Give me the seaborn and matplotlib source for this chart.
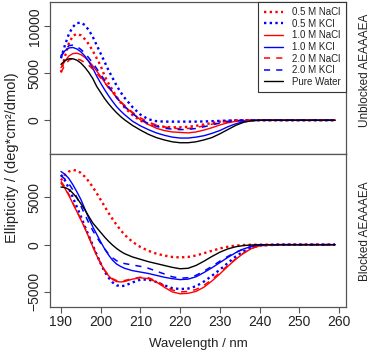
import matplotlib
matplotlib.use("Agg")
import matplotlib.pyplot as plt
import numpy as np
import pandas as pd
import seaborn as sns

# wavelength grid (nm) shared by every spectrum
wavelength = [190, 191, 192, 193, 194, 195, 196, 197, 198, 199, 200, 201, 202, 203, 204, 205, 206,
              208, 210, 212, 214, 216, 218, 220, 222, 224, 226, 228, 230, 232, 234, 236, 238, 240,
              245, 250, 255, 259]

series_labels = ["0.5 M NaCl", "0.5 M KCl", "1.0 M NaCl", "1.0 M KCl",
                 "2.0 M NaCl", "2.0 M KCl", "Pure Water"]

# unblocked AEAAAEA (top panel)
unb_nacl_05 = [5100, 6800, 8200, 9000, 9200, 9050, 8650, 8100, 7400, 6600, 5800, 4700, 3900, 3200, 2500, 1900, 1350,
               550, -50, -400, -600, -700, -750, -750, -700, -600, -450, -300, -150, -60, -20, 0, 0, 0,
               0, 0, 0, 0]
unb_kcl_05 = [6600, 8000, 9200, 9950, 10350, 10400, 10150, 9600, 8900, 8000, 7100, 6200, 5300, 4500, 3700, 3000, 2400,
              1400, 600, 100, -100, -150, -150, -150, -150, -150, -130, -100, -70, -40, -20, -10, 0, 0,
              0, 0, 0, 0]
unb_nacl_10 = [5600, 6300, 6850, 7100, 7150, 7000, 6700, 6300, 5800, 5250, 4650, 4050, 3450, 3000, 2450, 1950, 1500,
               750, 50, -450, -850, -1100, -1250, -1300, -1350, -1250, -1050, -800, -500, -280, -120, -40, 0, 0,
               0, 0, 0, 0]
unb_kcl_10 = [6900, 7400, 7700, 7750, 7600, 7300, 6850, 6250, 5550, 4700, 3950, 3250, 2600, 2000, 1450, 1000, 600,
              -100, -600, -1000, -1350, -1600, -1800, -1900, -1900, -1800, -1650, -1400, -1100, -700, -380, -150, -40, 0,
              0, 0, 0, 0]
unb_nacl_20 = [5100, 5900, 6400, 6600, 6550, 6400, 6150, 5850, 5450, 5000, 4500, 4000, 3450, 2950, 2450, 2000, 1600,
               850, 250, -200, -500, -700, -850, -900, -880, -780, -600, -420, -250, -120, -50, -10, 0, 0,
               0, 0, 0, 0]
unb_kcl_20 = [6700, 7500, 7950, 8000, 7850, 7550, 7150, 6650, 6100, 5500, 4900, 4250, 3600, 3000, 2400, 1900, 1450,
              700, 100, -350, -650, -850, -950, -1000, -980, -880, -700, -500, -300, -150, -60, -15, 0, 0,
              0, 0, 0, 0]
unb_water = [5950, 6350, 6550, 6550, 6400, 6100, 5650, 5100, 4450, 3600, 2950, 2300, 1750, 1250, 800, 400, 50,
             -550, -1050, -1500, -1850, -2100, -2300, -2400, -2400, -2300, -2100, -1850, -1450, -1000, -550, -220, -60, 0,
             0, 0, 0, 0]

# blocked AEAAAEA (bottom panel)
blk_nacl_05 = [6800, 7400, 7750, 7900, 7850, 7600, 7200, 6700, 6100, 5450, 4750, 4050, 3350, 2700, 2100, 1550, 1050,
               300, -250, -650, -950, -1150, -1300, -1350, -1300, -1150, -900, -650, -400, -220, -100, -40, -10, 0,
               0, 0, 0, 0]
blk_kcl_05 = [7400, 6800, 5950, 5000, 4000, 3000, 1950, 950, -50, -1050, -2000, -2850, -3500, -4000, -4300, -4400, -4350,
              -4000, -3700, -3700, -3950, -4300, -4600, -4700, -4650, -4400, -3900, -3300, -2650, -1950, -1250, -700, -300, -80,
              0, 0, 0, 0]
blk_nacl_10 = [6500, 5950, 5200, 4350, 3500, 2650, 1750, 800, -200, -1150, -2000, -2750, -3300, -3700, -3900, -3950, -3900,
               -3650, -3500, -3600, -3950, -4500, -5000, -5200, -5150, -4950, -4500, -3850, -3100, -2300, -1550, -900, -400, -120,
               0, 0, 0, 0]
blk_kcl_10 = [7750, 7450, 7000, 6350, 5600, 4800, 3800, 2800, 1900, 1100, 300, -450, -1100, -1650, -2050, -2300, -2500,
              -2750, -2900, -3050, -3250, -3450, -3600, -3700, -3650, -3400, -2950, -2450, -1900, -1350, -850, -450, -180, -50,
              0, 0, 0, 0]
blk_nacl_20 = [6700, 6100, 5300, 4400, 3550, 2700, 1800, 850, -150, -1100, -1950, -2700, -3250, -3600, -3800, -3850, -3800,
               -3600, -3450, -3500, -3850, -4350, -4800, -5000, -4950, -4750, -4300, -3700, -2950, -2200, -1500, -880, -390, -110,
               0, 0, 0, 0]
blk_kcl_20 = [7300, 6950, 6450, 5800, 5000, 4100, 3200, 2300, 1500, 800, 150, -450, -1000, -1400, -1700, -1900, -2000,
              -2150, -2300, -2500, -2800, -3100, -3400, -3550, -3500, -3250, -2800, -2300, -1750, -1250, -800, -450, -180, -50,
              0, 0, 0, 0]
blk_water = [6100, 6050, 5850, 5450, 4950, 4350, 3700, 3000, 2300, 1800, 1300, 800, 350, -50, -400, -700, -950,
             -1300, -1550, -1800, -2000, -2200, -2400, -2550, -2500, -2200, -1750, -1250, -800, -450, -220, -90, -30, 0,
             0, 0, 0, 0]

unblocked = [unb_nacl_05, unb_kcl_05, unb_nacl_10, unb_kcl_10, unb_nacl_20, unb_kcl_20, unb_water]
blocked = [blk_nacl_05, blk_kcl_05, blk_nacl_10, blk_kcl_10, blk_nacl_20, blk_kcl_20, blk_water]

colors = ["red", "blue", "red", "blue", "red", "blue", "black"]
dotted = (0, (1, 1.4))
dashed = (0, (4, 4))
styles = [dotted, dotted, "-", "-", dashed, dashed, "-"]
widths = [1.7, 1.7, 1.0, 1.0, 1.1, 1.1, 1.0]

sns.set_style("ticks")
plt.rcParams['font.family'] = ['Liberation Sans', 'DejaVu Sans']

W, H = 374, 353
fig = plt.figure(figsize=(W / 100, H / 100), dpi=100)
ax_top = fig.add_axes([50 / W, 1 - 154 / H, 296 / W, 152 / H])
ax_bot = fig.add_axes([50 / W, 1 - 307 / H, 296 / W, 153 / H], sharex=ax_top)

for ax, panel in [(ax_top, unblocked), (ax_bot, blocked)]:
    for vals, lab, c, ls, lw in zip(panel, series_labels, colors, styles, widths):
        sns.lineplot(x=wavelength, y=vals, ax=ax, color=c, linestyle=ls, linewidth=lw,
                     label=lab, legend=False)

ax_top.set_xlim(187.24, 261.76)
ax_top.set_ylim(-3600, 12600)
ax_bot.set_ylim(-6600, 9600)
ax_top.set_yticks([0, 5000, 10000])
ax_bot.set_yticks([-5000, 0, 5000])
ax_bot.set_xticks(range(190, 261, 10))

txt = "#222222"
for ax in (ax_top, ax_bot):
    for s in ax.spines.values():
        s.set_color("#555555")
        s.set_linewidth(0.9)
    ax.tick_params(direction="out", length=4, width=0.8, color="#555555",
                   labelcolor=txt, labelsize=10, pad=2)
    ax.tick_params(axis="y", labelrotation=90)
    for t in ax.get_yticklabels():
        t.set_va("center")
    ax.set_xlabel("")
    ax.set_ylabel("")
ax_top.tick_params(axis="x", bottom=False, labelbottom=False)

leg = ax_top.legend(loc="upper right", borderaxespad=0, fontsize=7, frameon=True,
                    fancybox=False, edgecolor="#333333", framealpha=1,
                    handlelength=2.0, labelspacing=0.16, borderpad=0.55, handletextpad=0.9)
leg.get_frame().set_linewidth(0.8)
for t in leg.get_texts():
    t.set_color(txt)

fig.text(12 / W, 1 - 158 / H, "Ellipticity / (deg*cm²/dmol)", rotation=90,
         ha="center", va="center", fontsize=10.5, color=txt)
fig.text(198 / W, 1 - 344 / H, "Wavelength / nm", ha="center", va="center",
         fontsize=9.5, color=txt)
fig.text(365 / W, 1 - 70 / H, "Unblocked AEAAAEA", rotation=90,
         ha="center", va="center", fontsize=8.5, color=txt)
fig.text(365 / W, 1 - 231 / H, "Blocked AEAAAEA", rotation=90,
         ha="center", va="center", fontsize=8.5, color=txt)

fig.savefig("out.png", dpi=100)
